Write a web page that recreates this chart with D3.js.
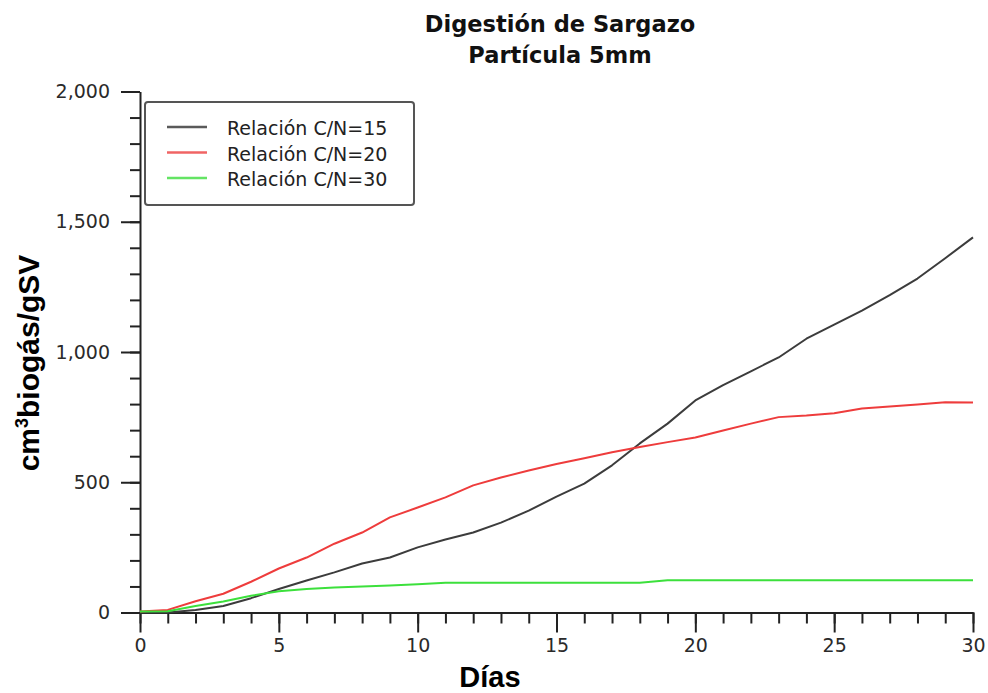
<!DOCTYPE html>
<html>
<head>
<meta charset="utf-8">
<script src="https://cdn.jsdelivr.net/npm/d3@7"></script>
<style>
  body { margin: 0; background: #fff; }
  svg { display: block; }
</style>
</head>
<body>
<div id="chart"></div>
<script>
(function () {

    // datos
    const days = [0, 1, 2, 3, 4, 5, 6, 7, 8, 9, 10, 11, 12, 13, 14, 15,
        16, 17, 18, 19, 20, 21, 22, 23, 24, 25, 26, 27, 28, 29, 30];
    const cn15 = [0, 0, 10, 25, 55, 90, 123, 154, 188, 211, 250, 280, 307, 345, 391, 445,
        495, 565, 649, 725, 814, 873, 926, 979, 1051, 1105, 1159, 1218, 1282, 1360, 1440];
    const cn20 = [4, 10, 43, 72, 118, 169, 211, 264, 307, 365, 403, 442, 488, 518, 545, 570,
        592, 615, 635, 654, 672, 699, 725, 750, 756, 765, 783, 791, 798, 807, 806];
    const cn30 = [4, 5, 25, 42, 64, 82, 90, 96, 100, 104, 108, 114, 114, 114, 114, 114,
        114, 114, 114, 124, 124, 124, 124, 124, 124, 124, 124, 124, 124, 124, 124];
    const seriesNames = ['Relación C/N=15', 'Relación C/N=20', 'Relación C/N=30'];
    const yMajorTicks = [0, 500, 1000, 1500, 2000];
    const xMajorTicks = [0, 5, 10, 15, 20, 25, 30];

    const series = [
        { name: seriesNames[0], values: cn15, color: '#3c3c3c', legend: '#5a5a5a' },
        { name: seriesNames[1], values: cn20, color: '#ee3c3c', legend: '#f06464' },
        { name: seriesNames[2], values: cn30, color: '#3ce03c', legend: '#64e464' }
    ];

    const chart = d3.select('#chart')
        .append('svg')
        .attr('width', 988)
        .attr('height', 693);

    // escalas
    const x = d3.scaleLinear()
        .domain([0, 30])
        .range([140, 973]);

    const y = d3.scaleLinear()
        .domain([0, 2000])
        .range([612.5, 91.5]);

    const tickFont = 'DejaVu Sans, Verdana, sans-serif';

    // eje Y: menores y mayores
    chart.append('g')
        .attr('class', 'axis')
        .attr('transform', 'translate(140, 0)')
        .call(d3.axisLeft(y).tickValues(d3.range(0, 2001, 100)).tickSize(10).tickFormat(''))
        .call(g => g.select('.domain').remove());

    chart.append('g')
        .attr('class', 'axis')
        .attr('transform', 'translate(140, 0)')
        .call(d3.axisLeft(y).tickValues(yMajorTicks).tickSize(19).tickPadding(11)
            .tickSizeOuter(0).tickFormat(d3.format(',')));

    // eje X
    chart.append('g')
        .attr('class', 'axis')
        .attr('transform', 'translate(0, 612.5)')
        .call(d3.axisBottom(x).tickValues(days).tickSize(11).tickFormat(''))
        .call(g => g.select('.domain').remove());

    chart.append('g')
        .attr('class', 'axis')
        .attr('transform', 'translate(0, 612.5)')
        .call(d3.axisBottom(x).tickValues(xMajorTicks).tickSize(20).tickPadding(6)
            .tickSizeOuter(0));

    chart.selectAll('.axis path, .axis line')
        .attr('stroke', '#222')
        .attr('stroke-width', 2);

    chart.selectAll('.axis text')
        .attr('fill', '#2a2a2a')
        .style('font-family', tickFont)
        .style('font-size', '19px');

    // líneas
    const line = d3.line()
        .x((d, i) => x(days[i]))
        .y(d => y(d));

    chart.append('g')
        .selectAll('path')
        .data(series)
        .enter()
        .append('path')
        .attr('d', d => line(d.values))
        .attr('stroke', d => d.color)
        .attr('stroke-width', 2)
        .attr('stroke-linejoin', 'round')
        .attr('fill', 'none');

    // leyenda
    const legend = chart.append('g');

    legend.append('rect')
        .attr('x', 145)
        .attr('y', 102)
        .attr('width', 269)
        .attr('height', 103)
        .attr('rx', 3)
        .attr('fill', '#fff')
        .attr('stroke', '#555')
        .attr('stroke-width', 2);

    const item = legend.selectAll('g.item')
        .data(series)
        .enter()
        .append('g')
        .attr('class', 'item')
        .attr('transform', (d, i) => `translate(0, ${127 + i * 25.5})`);

    item.append('line')
        .attr('x1', 167)
        .attr('x2', 207)
        .attr('stroke', d => d.legend)
        .attr('stroke-width', 2.5);

    item.append('text')
        .attr('x', 227)
        .attr('y', 8)
        .text(d => d.name)
        .attr('fill', '#222')
        .style('font-family', tickFont)
        .style('font-size', '19px');

    // título
    const title = chart.append('text')
        .attr('text-anchor', 'middle')
        .attr('fill', '#111')
        .style('font-family', tickFont)
        .style('font-weight', 'bold')
        .style('font-size', '22.5px');

    title.append('tspan').attr('x', 560).attr('y', 32).text('Digestión de Sargazo');
    title.append('tspan').attr('x', 560).attr('y', 63).text('Partícula 5mm');

    // títulos de ejes
    chart.append('text')
        .attr('x', 490)
        .attr('y', 687)
        .attr('text-anchor', 'middle')
        .style('font-family', 'Liberation Sans, Arial, sans-serif')
        .style('font-weight', 'bold')
        .style('font-size', '29px')
        .text('Días');

    const ylab = chart.append('text')
        .attr('transform', 'translate(39, 363) rotate(-90)')
        .attr('text-anchor', 'middle')
        .style('font-family', 'Liberation Sans, Arial, sans-serif')
        .style('font-weight', 'bold')
        .style('font-size', '30px');

    ylab.append('tspan').text('cm');
    ylab.append('tspan').attr('dy', -11).style('font-size', '18px').text('3');
    ylab.append('tspan').attr('dy', 11).text('biogás/gSV');

})();
</script>
</body>
</html>
